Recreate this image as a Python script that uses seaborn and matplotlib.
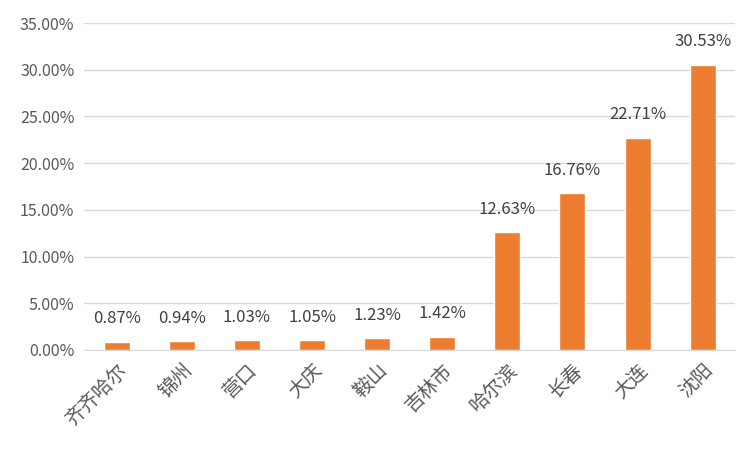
import pandas as pd
import matplotlib.pyplot as plt
import seaborn as sns

# Data
cities = ['齐齐哈尔', '锦州', '营口', '大庆', '鞍山', '吉林市', '哈尔滨', '长春', '大连', '沈阳']
shares = [0.87, 0.94, 1.03, 1.05, 1.23, 1.42, 12.63, 16.76, 22.71, 30.53]
yticks = [0, 5, 10, 15, 20, 25, 30, 35]

df = pd.DataFrame({'city': cities, 'share': shares})

sns.set_style('white')
plt.rcParams['font.family'] = ['Noto Sans CJK SC', 'DejaVu Sans']

fig = plt.figure(figsize=(7.51, 4.51), dpi=100)
ax = fig.add_axes([0.112, 0.224, 0.867, 0.725])

sns.barplot(data=df, x='city', y='share', color='#ED7D31', saturation=1, width=0.4, ax=ax)

ax.set_ylim(0, 35)
ax.set_yticks(yticks)
ax.set_yticklabels([f'{t:.2f}%' for t in yticks], fontsize=11.5, color='#595959')
ax.set_xlim(-0.5, len(cities) - 0.5)
ax.yaxis.grid(True, color='#D9D9D9', linewidth=1)
ax.set_axisbelow(True)
ax.set_xlabel('')
ax.set_ylabel('')
for s in ['top', 'right', 'left']:
    ax.spines[s].set_visible(False)
ax.spines['bottom'].set_color('#D9D9D9')
ax.tick_params(axis='both', length=0, pad=7)
plt.setp(ax.get_xticklabels(), rotation=45, ha='right', rotation_mode='anchor',
         fontsize=14, color='#595959')

# Value labels
for i, v in enumerate(shares):
    ax.annotate(f'{v:.2f}%', (i, v), xytext=(0, 16.5), textcoords='offset points',
                ha='center', va='center', fontsize=12, color='#404040')

fig.savefig('out.png', dpi=100)
